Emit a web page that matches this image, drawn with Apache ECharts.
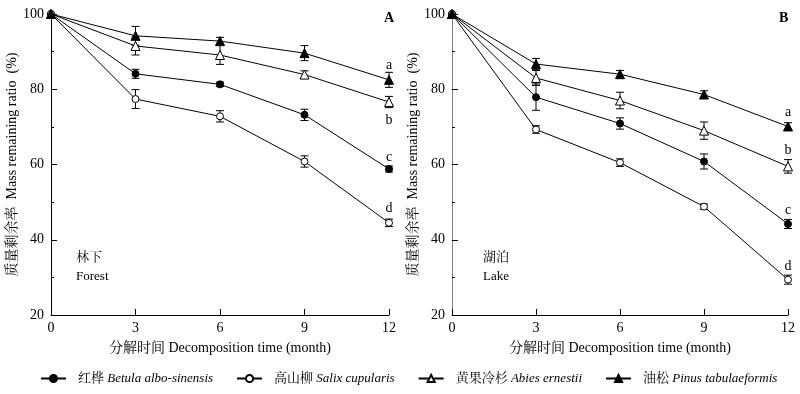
<!DOCTYPE html>
<html>
<head>
<meta charset="utf-8">
<script src="https://cdn.jsdelivr.net/npm/echarts@6/dist/echarts.min.js"></script>
<style>html,body{margin:0;padding:0;background:#fff}#c{width:800px;height:394px}</style>
</head>
<body>
<div id="c"></div>
<script>
// ---- Data ----
const months = [0, 3, 6, 9, 12];
const seriesNames = ['红桦 Betula albo-sinensis', '高山柳 Salix cupularis', '黄果冷杉 Abies ernestii', '油松 Pinus tabulaeformis'];
// Panel A: Forest
const forestBetula = [100, 84.1, 81.3, 73.2, 58.8];
const forestSalix  = [100, 77.4, 72.8, 60.8, 44.5];
const forestAbies  = [100, 91.5, 89.1, 83.9, 76.6];
const forestPinus  = [100, 94.2, 92.8, 89.6, 82.5];
const forestBetulaErr = [0, 1.2, 0.6, 1.5, 0.8];
const forestSalixErr  = [0, 2.5, 1.5, 1.5, 1.0];
const forestAbiesErr  = [0, 2.4, 2.5, 1.0, 1.5];
const forestPinusErr  = [0, 2.5, 1.0, 2.0, 2.0];
// Panel B: Lake
const lakeBetula = [100, 77.9, 70.9, 60.8, 44.2];
const lakeSalix  = [100, 69.3, 60.5, 48.8, 29.4];
const lakeAbies  = [100, 83.0, 77.0, 69.0, 59.5];
const lakePinus  = [100, 86.7, 84.0, 78.6, 70.1];
const lakeBetulaErr = [0, 3.5, 1.5, 2.0, 1.2];
const lakeSalixErr  = [0, 1.0, 1.0, 0.7, 1.2];
const lakeAbiesErr  = [0, 2.0, 2.2, 2.3, 1.8];
const lakePinusErr  = [0, 1.5, 1.0, 1.0, 1.0];
// Significance letters at month 12
const forestLetters = ['c', 'd', 'b', 'a'];
const lakeLetters   = ['c', 'd', 'b', 'a'];
const yTicks = [20, 40, 60, 80, 100];

// ---- Styles ----
const SERIF = "'Liberation Serif','Times New Roman','Noto Serif CJK SC','Noto Sans CJK SC',serif";
const symbols = [
  {symbol: 'circle', size: 7, fill: '#000'},
  {symbol: 'circle', size: 7, fill: '#fff'},
  {symbol: 'triangle', size: 9, fill: '#fff'},
  {symbol: 'triangle', size: 9, fill: '#000'}
];
const forestLetterOffset = [-12, -14, 18, -15];
const lakeLetterOffset = [-14, -13, -16, -14];

const chart = echarts.init(document.getElementById('c'), null, {renderer: 'canvas'});

function lineSeries(idx, values, letters, offsets, gi) {
  return {
    type: 'line',
    name: seriesNames[idx],
    xAxisIndex: gi, yAxisIndex: gi,
    data: values.map((v, i) => i === values.length - 1
      ? {value: [months[i], v], label: {show: true, formatter: letters[idx], position: 'inside', offset: [0, offsets[idx]], color: '#000', fontFamily: SERIF, fontSize: 14}}
      : [months[i], v]),
    symbol: symbols[idx].symbol,
    symbolSize: symbols[idx].size,
    showSymbol: true,
    lineStyle: {color: '#000', width: 1},
    itemStyle: {color: symbols[idx].fill, borderColor: '#000', borderWidth: 1},
    z: 3,
    silent: true,
    animation: false
  };
}

function errSeries(values, errs, gi) {
  return {
    type: 'custom',
    xAxisIndex: gi, yAxisIndex: gi,
    data: values.map((v, i) => [months[i], v, errs[i]]).filter(d => d[2] > 0),
    renderItem: function (params, api) {
      const x = api.value(0), y = api.value(1), e = api.value(2);
      const top = api.coord([x, y + e]);
      const bot = api.coord([x, y - e]);
      const hw = 4;
      const st = {stroke: '#000', lineWidth: 1};
      return {
        type: 'group',
        children: [
          {type: 'line', shape: {x1: top[0], y1: top[1], x2: bot[0], y2: bot[1]}, style: st},
          {type: 'line', shape: {x1: top[0] - hw, y1: top[1], x2: top[0] + hw, y2: top[1]}, style: st},
          {type: 'line', shape: {x1: bot[0] - hw, y1: bot[1], x2: bot[0] + hw, y2: bot[1]}, style: st}
        ]
      };
    },
    z: 2,
    silent: true,
    animation: false
  };
}

function xAxis(gi) {
  return {
    type: 'value', gridIndex: gi, min: 0, max: 12, interval: 3,
    name: '分解时间 Decomposition time (month)', nameLocation: 'middle', nameGap: 26,
    nameTextStyle: {fontFamily: SERIF, fontSize: 14, color: '#000'},
    axisLine: {lineStyle: {color: '#000', width: 1}},
    axisTick: {inside: true, length: 6, lineStyle: {color: '#000'}},
    axisLabel: {fontFamily: SERIF, fontSize: 14, color: '#000', margin: 6},
    splitLine: {show: false}
  };
}
function yAxis(gi, lineColor) {
  return {
    type: 'value', gridIndex: gi, min: yTicks[0], max: yTicks[yTicks.length - 1], interval: 20,
    name: '质量剩余率  Mass remaining ratio  (%)', nameLocation: 'middle', nameGap: 29, nameRotate: 90,
    nameTextStyle: {fontFamily: SERIF, fontSize: 14, color: '#000'},
    axisLine: {show: true, lineStyle: {color: lineColor, width: 1}},
    axisTick: {inside: true, length: 6, lineStyle: {color: '#000'}},
    minorTick: {show: true, splitNumber: 2, length: 3, lineStyle: {color: '#000'}},
    axisLabel: {fontFamily: SERIF, fontSize: 14, color: '#000', margin: 7},
    splitLine: {show: false}
  };
}

const forestVals = [forestBetula, forestSalix, forestAbies, forestPinus];
const forestErrs = [forestBetulaErr, forestSalixErr, forestAbiesErr, forestPinusErr];
const lakeVals = [lakeBetula, lakeSalix, lakeAbies, lakePinus];
const lakeErrs = [lakeBetulaErr, lakeSalixErr, lakeAbiesErr, lakePinusErr];

const series = [];
for (let i = 0; i < 4; i++) series.push(errSeries(forestVals[i], forestErrs[i], 0));
for (let i = 0; i < 4; i++) series.push(errSeries(lakeVals[i], lakeErrs[i], 1));
for (let i = 0; i < 4; i++) series.push(lineSeries(i, forestVals[i], forestLetters, forestLetterOffset, 0));
for (let i = 0; i < 4; i++) series.push(lineSeries(i, lakeVals[i], lakeLetters, lakeLetterOffset, 1));

const txt = (x, y, t, extra) => ({type: 'text', left: x, top: y, style: Object.assign({text: t, fill: '#000', font: '13px ' + SERIF}, extra || {})});

chart.setOption({
  backgroundColor: '#fff',
  animation: false,
  grid: [
    {left: 51, right: 411, top: 14, bottom: 79},
    {left: 452, right: 12, top: 14, bottom: 79}
  ],
  xAxis: [xAxis(0), xAxis(1)],
  yAxis: [yAxis(0, '#000'), yAxis(1, '#7f7f7f')],
  legend: {
    data: seriesNames.map(n => ({name: n})),
    left: 35, top: 367,
    itemWidth: 25, itemHeight: 9, itemGap: 23,
    selectedMode: false,
    formatter: function (name) {
      const sp = name.indexOf(' ');
      return '{cn|' + name.slice(0, sp) + '} {la|' + name.slice(sp + 1) + '}';
    },
    textStyle: {
      color: '#000', fontFamily: SERIF, fontSize: 13,
      rich: {
        cn: {fontFamily: SERIF, fontSize: 13, color: '#000', padding: [0, 0, 0, 7]},
        la: {fontFamily: SERIF, fontSize: 13, fontStyle: 'italic', color: '#000'}
      }
    }
  },
  graphic: [
    txt(384, 11, 'A', {font: 'bold 14px ' + SERIF}),
    txt(779, 11, 'B', {font: 'bold 14px ' + SERIF}),
    txt(76, 251, '林下'),
    txt(76, 270, 'Forest'),
    txt(483, 251, '湖泊'),
    txt(483, 270, 'Lake')
  ],
  series: series
});
</script>
</body>
</html>
